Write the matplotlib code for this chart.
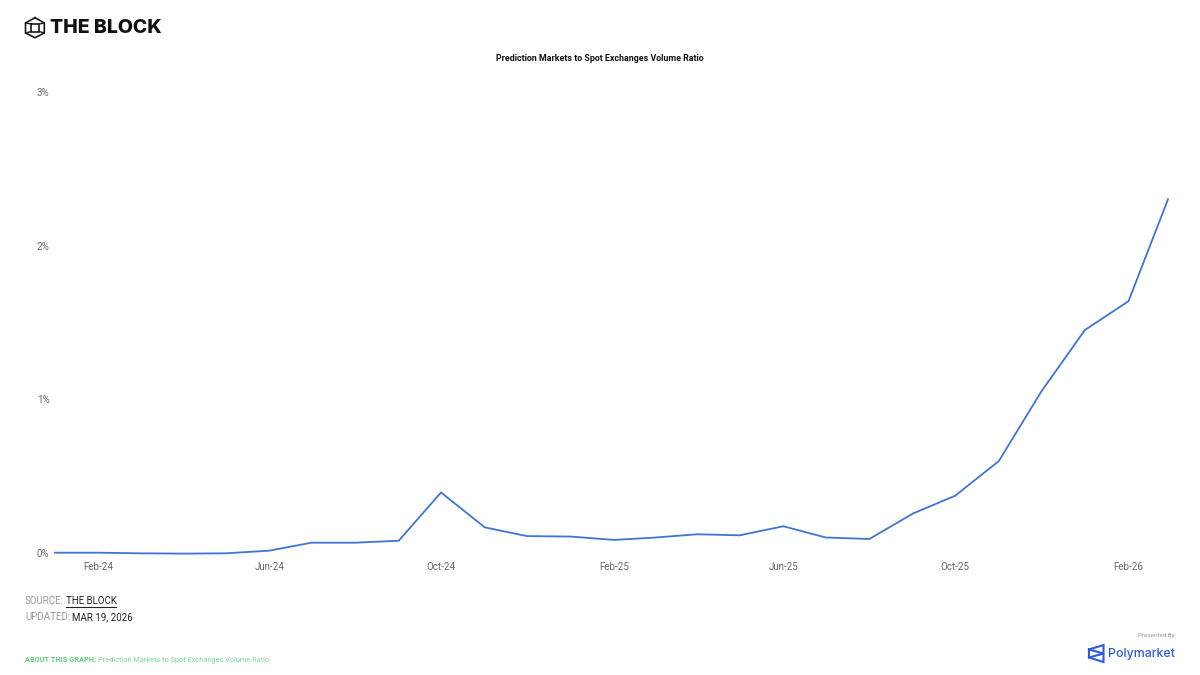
import matplotlib
matplotlib.use('Agg')
import matplotlib.pyplot as plt
import matplotlib.dates as mdates
import pandas as pd
from matplotlib.lines import Line2D

plt.rcParams['font.family'] = ['Roboto', 'DejaVu Sans']

# monthly ratio in percent
months = ['2024-01', '2024-02', '2024-03', '2024-04', '2024-05', '2024-06', '2024-07', '2024-08', '2024-09',
          '2024-10', '2024-11', '2024-12', '2025-01', '2025-02', '2025-03', '2025-04', '2025-05', '2025-06',
          '2025-07', '2025-08', '2025-09', '2025-10', '2025-11', '2025-12', '2026-01', '2026-02', '2026-03']
ratio = [0.002, 0.002, -0.002, -0.004, -0.002, 0.015, 0.067, 0.067, 0.08,
         0.394, 0.167, 0.11, 0.107, 0.085, 0.10, 0.122, 0.115, 0.174,
         0.101, 0.091, 0.257, 0.373, 0.599, 1.05, 1.451, 1.639, 2.302]
y_ticks = [0, 1, 2, 3]
y_labels = ['0%', '1%', '2%', '3%']
x_ticks = ['2024-02', '2024-06', '2024-10', '2025-02', '2025-06', '2025-10', '2026-02']

W, H = 1200, 675
fig = plt.figure(figsize=(W / 100, H / 100), dpi=100, facecolor='white')


def fx(px):
    return px / W


def fy(py):
    return 1 - py / H


def pxline(xs, ys, color, lw=1.0):
    fig.add_artist(Line2D([fx(x) for x in xs], [fy(y) for y in ys], color=color, lw=lw,
                          solid_joinstyle='miter', transform=fig.transFigure))


# axes box is lined up so the first month lands at 55px and 0% at 553px
ax = fig.add_axes([fx(55), fy(553), (1168 - 55) / W, (553 - 92) / H])
dates = pd.to_datetime(months)
ax.plot(dates, ratio, color='#3f74d0', lw=1.3, clip_on=False, solid_joinstyle='round')
ax.set_xlim(dates[0], dates[-1])
ax.set_ylim(0, 3)
for side in ax.spines.values():
    side.set_visible(False)
ax.set_yticks(y_ticks)
ax.set_yticklabels(y_labels)
ax.set_xticks(pd.to_datetime(x_ticks))
ax.xaxis.set_major_formatter(mdates.DateFormatter('%b-%y'))
ax.tick_params(axis='both', length=0, labelsize=7, labelcolor='#666666')
ax.tick_params(axis='x', pad=6.5)
ax.tick_params(axis='y', pad=4)

fig.text(0.5, fy(58.5), 'Prediction Markets to Spot Exchanges Volume Ratio', ha='center', va='center',
         fontsize=6.4, fontweight='bold', color='#111111')

# logo, top left
k = '#1a1a1a'
pxline([35, 44.3, 44.3, 35, 25.5, 25.5, 35], [17.7, 23, 33, 37.7, 33, 23, 17.7], k, 1.2)
pxline([31.2, 39.2, 39.2, 31.2, 31.2], [24, 24, 31.5, 31.5, 24], k, 1.2)
pxline([25.5, 31.2], [23, 24], k, 1.0)
pxline([44.3, 39.2], [23, 24], k, 1.0)
pxline([25.5, 31.2], [33, 31.5], k, 1.0)
pxline([44.3, 39.2], [33, 31.5], k, 1.0)
fig.text(fx(50), fy(28), 'THE BLOCK', ha='left', va='center', fontsize=14, fontweight='heavy',
         family=['Inter', 'DejaVu Sans'], color='#111111')

# source block
fig.text(fx(25), fy(601), 'SOURCE:', ha='left', va='center', fontsize=7, color='#999999')
fig.text(fx(66), fy(601), 'THE BLOCK', ha='left', va='center', fontsize=7, color='#222222')
pxline([66, 116], [606.5, 606.5], '#222222', 0.8)
fig.text(fx(25), fy(617), 'UPDATED:', ha='left', va='center', fontsize=7, color='#999999')
fig.text(fx(71.5), fy(617), 'MAR 19, 2026', ha='left', va='center', fontsize=7, color='#222222')

fig.text(fx(25), fy(660), 'ABOUT THIS GRAPH:', ha='left', va='center', fontsize=5.3, fontweight='bold',
         color='#5fcf80')
fig.text(fx(97.5), fy(660), 'Prediction Markets to Spot Exchanges Volume Ratio', ha='left', va='center',
         fontsize=5.3, color='#7fd89a')

# presented by, bottom right
fig.text(fx(1175), fy(635), 'Presented By', ha='right', va='center', fontsize=4.5, color='#999999')
b = '#2d5be3'
pxline([1089, 1103.5, 1103.5, 1089, 1089], [649.5, 645, 662, 657.5, 649.5], b, 1.5)
pxline([1089, 1103.5, 1089], [649.5, 653.5, 657.5], b, 1.5)
fig.text(fx(1108), fy(653.5), 'Polymarket', ha='left', va='center', fontsize=8.9, fontweight='medium',
         family=['Inter', 'DejaVu Sans'], color=b)

fig.savefig('out.png', dpi=100, facecolor='white')
